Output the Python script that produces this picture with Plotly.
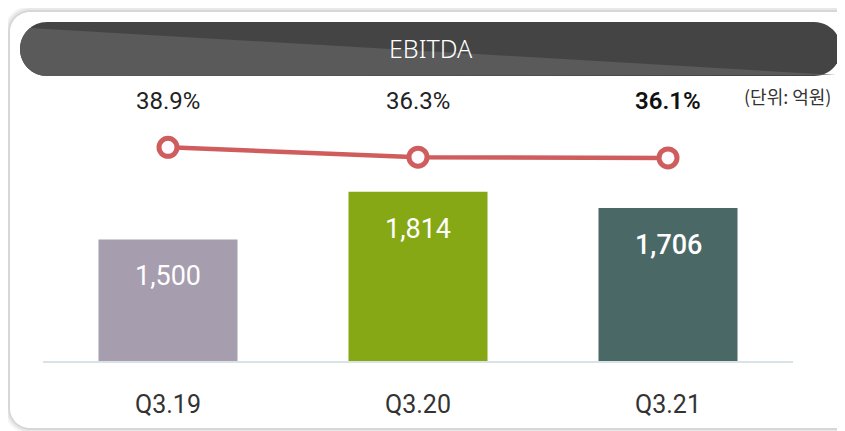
import plotly.graph_objects as go

OFF = 8  # page body margin in the browser
W, H = 845 - OFF, 431 - OFF

quarters = ['Q3.19', 'Q3.20', 'Q3.21']
ebitda = [1500, 1814, 1706]
margin_pct = [38.9, 36.3, 36.1]
bar_colors = ['#a69dae', '#86a815', '#4a6866']


def px(x):
    return (x - OFF) / W


def py(y):
    return 1 - (y - OFF) / H


def rounded_rect(x0, y0, x1, y1, r):
    k = 0.5523 * r
    pts = [
        f"M {px(x0 + r)},{py(y0)}",
        f"L {px(x1 - r)},{py(y0)}",
        f"C {px(x1 - r + k)},{py(y0)} {px(x1)},{py(y0 + r - k)} {px(x1)},{py(y0 + r)}",
        f"L {px(x1)},{py(y1 - r)}",
        f"C {px(x1)},{py(y1 - r + k)} {px(x1 - r + k)},{py(y1)} {px(x1 - r)},{py(y1)}",
        f"L {px(x0 + r)},{py(y1)}",
        f"C {px(x0 + r - k)},{py(y1)} {px(x0)},{py(y1 - r + k)} {px(x0)},{py(y1 - r)}",
        f"L {px(x0)},{py(y0 + r)}",
        f"C {px(x0)},{py(y0 + r - k)} {px(x0 + r - k)},{py(y0)} {px(x0 + r)},{py(y0)}",
        "Z",
    ]
    return " ".join(pts)


shapes = []
# card shadow
for i, op in enumerate([0.04, 0.05, 0.07]):
    d = 6 - 2 * i
    shapes.append(dict(type='path', xref='paper', yref='paper', layer='below',
                       path=rounded_rect(10 - d, 12 - d, 860 + d, 428 + d, 20 + d),
                       fillcolor=f'rgba(0,0,0,{op})', line=dict(width=0)))
shapes.append(dict(type='path', xref='paper', yref='paper', layer='below',
                   path=rounded_rect(10, 12, 860, 428, 20),
                   fillcolor='white', line=dict(width=0)))
# header pill
shapes.append(dict(type='path', xref='paper', yref='paper', layer='below',
                   path=rounded_rect(20, 22, 841, 76, 27),
                   fillcolor='#444444', line=dict(width=0)))
# lighter wedge in header
wedge = (f"M {px(30)},{py(28)} L {px(836)},{py(75)} L {px(47)},{py(76)} "
         f"C {px(32)},{py(76)} {px(20)},{py(64)} {px(20)},{py(49)} "
         f"C {px(20)},{py(40)} {px(24)},{py(33)} {px(30)},{py(28)} Z")
shapes.append(dict(type='path', xref='paper', yref='paper', layer='below',
                   path=wedge, fillcolor='#5a5a5a', line=dict(width=0)))

fig = go.Figure()
fig.add_trace(go.Bar(
    x=quarters, y=ebitda, marker=dict(color=bar_colors, line=dict(width=0)),
    width=0.556, hoverinfo='skip'
))
fig.add_trace(go.Scatter(
    x=quarters, y=margin_pct, yaxis='y2', mode='lines+markers',
    line=dict(color='#d05d5d', width=4.5),
    marker=dict(size=18, color='#fdfbff', line=dict(color='#d05d5d', width=5)),
    hoverinfo='skip'
))

annotations = []
for i, (q, v) in enumerate(zip(quarters, ebitda)):
    annotations.append(dict(
        x=q, y=v, xref='x', yref='y', text=f"{v:,}", showarrow=False,
        yshift=-37, yanchor='middle',
        font=dict(family='Roboto', size=27, color='white',
                  weight=500 if i == 2 else 400)))
for i, (q, p) in enumerate(zip(quarters, margin_pct)):
    annotations.append(dict(
        x=q, y=py(101), xref='x', yref='paper', text=f"{p}%", showarrow=False,
        yanchor='middle',
        font=dict(family='Roboto', size=24,
                  color='#111111' if i == 2 else '#222222',
                  weight=600 if i == 2 else 400)))
annotations.append(dict(
    x=px(833), y=py(96), xref='paper', yref='paper', text='(단위: 억원)',
    showarrow=False, xanchor='right', yanchor='middle',
    font=dict(family='Noto Sans CJK KR', size=18, color='#333333')))
annotations.append(dict(
    x=px(431), y=py(48), xref='paper', yref='paper', text='EBITDA',
    showarrow=False, xanchor='center', yanchor='middle',
    font=dict(family='Noto Sans', size=25, color='white', weight=300)))

fig.update_layout(
    width=W, height=H,
    margin=dict(l=0, r=0, t=0, b=0),
    paper_bgcolor='white', plot_bgcolor='rgba(0,0,0,0)',
    showlegend=False,
    shapes=shapes,
    annotations=annotations,
    xaxis=dict(domain=[px(43), px(793)], range=[-0.5, 2.5],
               showgrid=False, zeroline=False,
               showline=True, linecolor='#d9e2e6', linewidth=2,
               ticks='', ticklabelstandoff=20,
               tickfont=dict(family='Roboto', size=25, color='#333333')),
    yaxis=dict(domain=[py(361), py(85)], range=[700, 2515.8],
               visible=False, showgrid=False, zeroline=False),
    yaxis2=dict(domain=[py(361), py(85)], range=[-17.34, 55.29],
                overlaying='y', visible=False, showgrid=False, zeroline=False),
)

fig.write_html("out.html")
